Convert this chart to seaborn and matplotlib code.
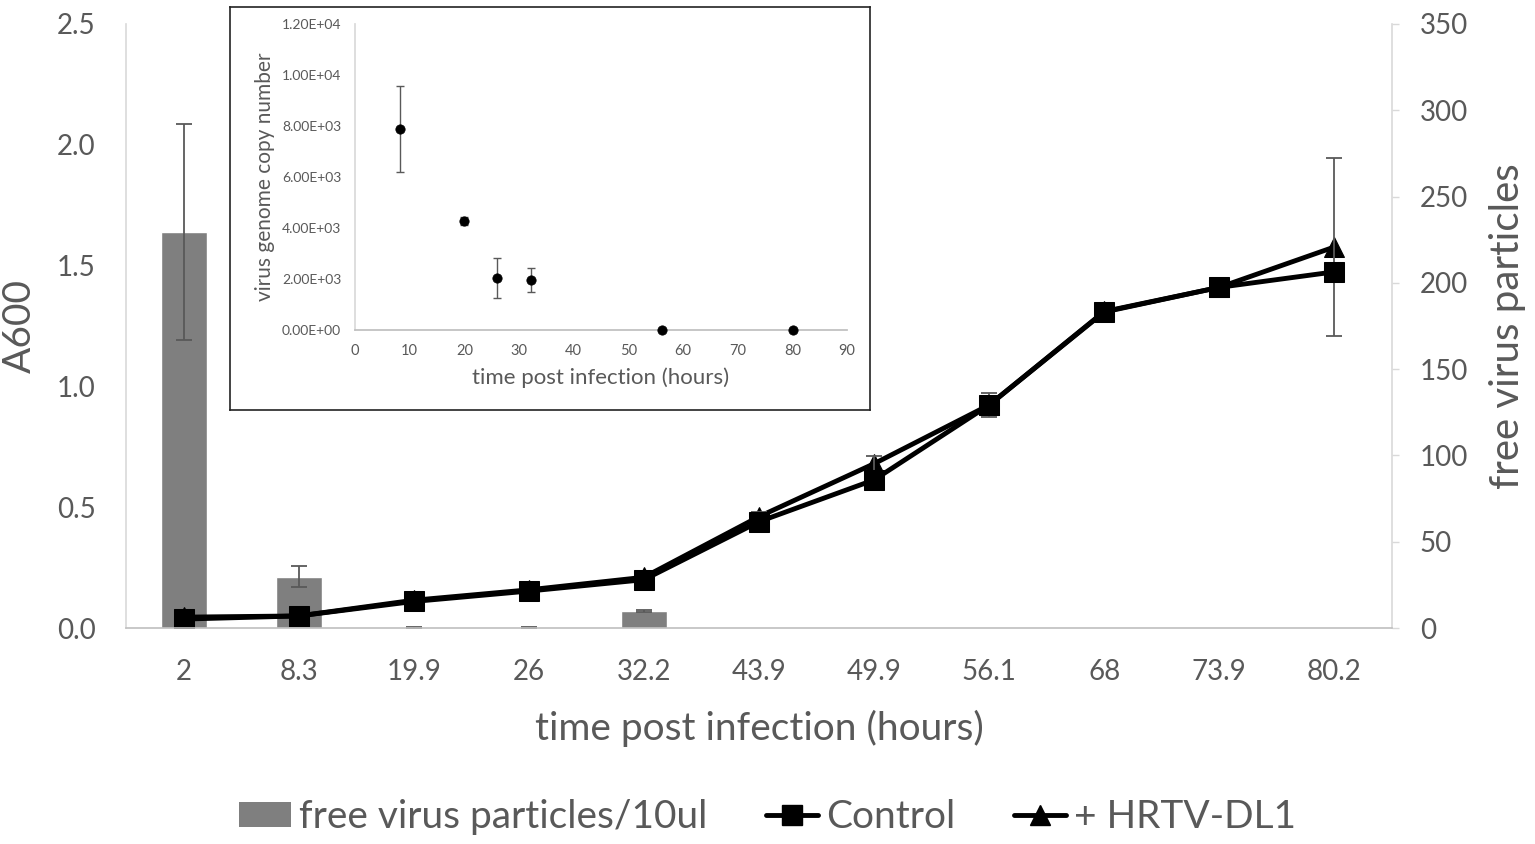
import numpy as np
import pandas as pd
import seaborn as sns
import matplotlib.pyplot as plt
from matplotlib.lines import Line2D
from matplotlib.patches import Patch

# main chart data
times = ["2", "8.3", "19.9", "26", "32.2", "43.9", "49.9", "56.1", "68", "73.9", "80.2"]
particles = [229.5, 29.7, 0, 0, 9.9, 0, 0, 0, 0, 0, 0]
particles_err = [62.5, 6.0, 0.6, 0.6, 0.5, 0, 0, 0, 0, 0, 0]
control_a600 = [0.037, 0.05, 0.11, 0.153, 0.20, 0.44, 0.613, 0.923, 1.308, 1.41, 1.474]
hrtv_a600 = [0.045, 0.05, 0.115, 0.158, 0.21, 0.461, 0.68, 0.923, 1.31, 1.41, 1.577]
hrtv_err = [0.01, 0.01, 0.01, 0.01, 0.01, 0.02, 0.03, 0.05, 0.02, 0.02, 0.37]

# inset data
genome_hours = [8.3, 19.9, 26, 32.2, 56.1, 80.2]
genome_copies = [7880, 4265, 2050, 1945, 0, 0]
genome_err = [1680, 150, 790, 470, 0, 0]

GRAY_TXT = "#595959"
BAR_GRAY = "#7f7f7f"

sns.set_theme(style="white")
plt.rcParams["font.family"] = ["Lato", "DejaVu Sans"]

fig = plt.figure(figsize=(15.35, 8.44), dpi=100)

# bars live on the primary axes, shown against the right-hand scale
ax_bar = fig.add_axes([0.0821, 0.2559, 0.8247, 0.7157])
df_bar = pd.DataFrame({"time": times, "particles": particles})
sns.barplot(data=df_bar, x="time", y="particles", order=times, color=BAR_GRAY,
            saturation=1, width=0.4, errorbar=None, ax=ax_bar)
ax_bar.errorbar(np.arange(5), particles[:5], yerr=particles_err[:5], fmt="none",
                ecolor=GRAY_TXT, elinewidth=1.3, capsize=6, capthick=1.3)

# A600 growth curves on the twin, shown on the left
ax_line = ax_bar.twinx()
pos = np.arange(len(times))
sns.lineplot(x=pos, y=hrtv_a600, color="black", linewidth=3.5, marker="^",
             markersize=15, markeredgecolor="black", ax=ax_line)
ax_line.errorbar(pos, hrtv_a600, yerr=hrtv_err, fmt="none", ecolor=GRAY_TXT,
                 elinewidth=1.3, capsize=6, capthick=1.3)
sns.lineplot(x=pos, y=control_a600, color="black", linewidth=3.5, marker="s",
             markersize=14, markeredgecolor="black", ax=ax_line)

# axis setup (after twinx, which resets tick sides)
ax_bar.set_ylim(0, 350)
ax_bar.set_xlim(-0.5, len(times) - 0.5)
ax_bar.yaxis.tick_right()
ax_bar.set_yticks(np.arange(0, 351, 50))
ax_bar.set_ylabel("free virus particles", fontsize=29, color=GRAY_TXT)
ax_bar.yaxis.set_label_position("right")
ax_bar.yaxis.set_label_coords(1.077, 0.5)
ax_bar.set_xlabel("time post infection (hours)", fontsize=28, color=GRAY_TXT, labelpad=18)
ax_bar.tick_params(axis="y", length=5, width=1, color="#d9d9d9", pad=15,
                   labelsize=20, labelcolor=GRAY_TXT)
ax_bar.tick_params(axis="x", length=0, pad=22, labelsize=20, labelcolor=GRAY_TXT)
for s in ax_bar.spines.values():
    s.set_visible(False)

ax_line.set_ylim(0, 2.5)
ax_line.set_xlim(-0.5, len(times) - 0.5)
ax_line.yaxis.tick_left()
ax_line.set_yticks(np.arange(0, 2.51, 0.5))
ax_line.set_yticklabels([f"{v:.1f}" for v in np.arange(0, 2.51, 0.5)])
ax_line.set_ylabel("A600", fontsize=28, color=GRAY_TXT)
ax_line.yaxis.set_label_position("left")
ax_line.yaxis.set_label_coords(-0.070, 0.5)
ax_line.tick_params(axis="y", length=0, pad=22, labelsize=20, labelcolor=GRAY_TXT)
ax_line.spines["top"].set_visible(False)
ax_line.spines["left"].set_color("#d9d9d9")
ax_line.spines["right"].set_color("#d9d9d9")
ax_line.spines["bottom"].set_color("#bfbfbf")
for s in ["left", "right", "bottom"]:
    ax_line.spines[s].set_linewidth(1.2)

# inset frame and inset scatter
ax_box = fig.add_axes([0.1498, 0.5142, 0.417, 0.4775], zorder=5)
ax_box.set_facecolor("white")
ax_box.set_xticks([])
ax_box.set_yticks([])
for s in ax_box.spines.values():
    s.set_color("#222222")
    s.set_linewidth(1.2)

ax_in = fig.add_axes([0.2313, 0.609, 0.3205, 0.3626], zorder=6)
ax_in.patch.set_alpha(0)
ax_in.errorbar(genome_hours, genome_copies, yerr=genome_err, fmt="none",
               ecolor=GRAY_TXT, elinewidth=1, capsize=3, capthick=1)
sns.scatterplot(x=genome_hours, y=genome_copies, color="black", s=45,
                edgecolor="black", zorder=3, clip_on=False, ax=ax_in)
ax_in.set_xlim(0, 90)
ax_in.set_ylim(0, 12000)
ax_in.set_xticks(np.arange(0, 91, 10))
ax_in.set_yticks(np.arange(0, 12001, 2000))
ax_in.set_yticklabels([f"{v:.2E}" for v in np.arange(0, 12001, 2000)])
ax_in.tick_params(axis="x", length=0, labelsize=10.5, labelcolor=GRAY_TXT, pad=10)
ax_in.tick_params(axis="y", length=0, labelsize=10, labelcolor=GRAY_TXT, pad=10)
ax_in.set_xlabel("time post infection (hours)", fontsize=16, color=GRAY_TXT, labelpad=7)
ax_in.set_ylabel("virus genome copy number", fontsize=15, color=GRAY_TXT, labelpad=5)
ax_in.spines["top"].set_visible(False)
ax_in.spines["right"].set_visible(False)
ax_in.spines["left"].set_color("#d9d9d9")
ax_in.spines["bottom"].set_color("#bfbfbf")

handles = [
    Patch(facecolor=BAR_GRAY, edgecolor="none", label="free virus particles/10ul"),
    Line2D([0], [0], color="black", lw=3.5, marker="s", markersize=14, label="Control"),
    Line2D([0], [0], color="black", lw=3.5, marker="^", markersize=15, label="+ HRTV-DL1"),
]
fig.legend(handles=handles, loc="center", bbox_to_anchor=(0.5, 0.032), ncol=3,
           frameon=False, fontsize=28, labelcolor=GRAY_TXT, handlelength=1.35,
           handleheight=0.6, columnspacing=1.5, handletextpad=0.2)

fig.savefig("out.png", dpi=100)
